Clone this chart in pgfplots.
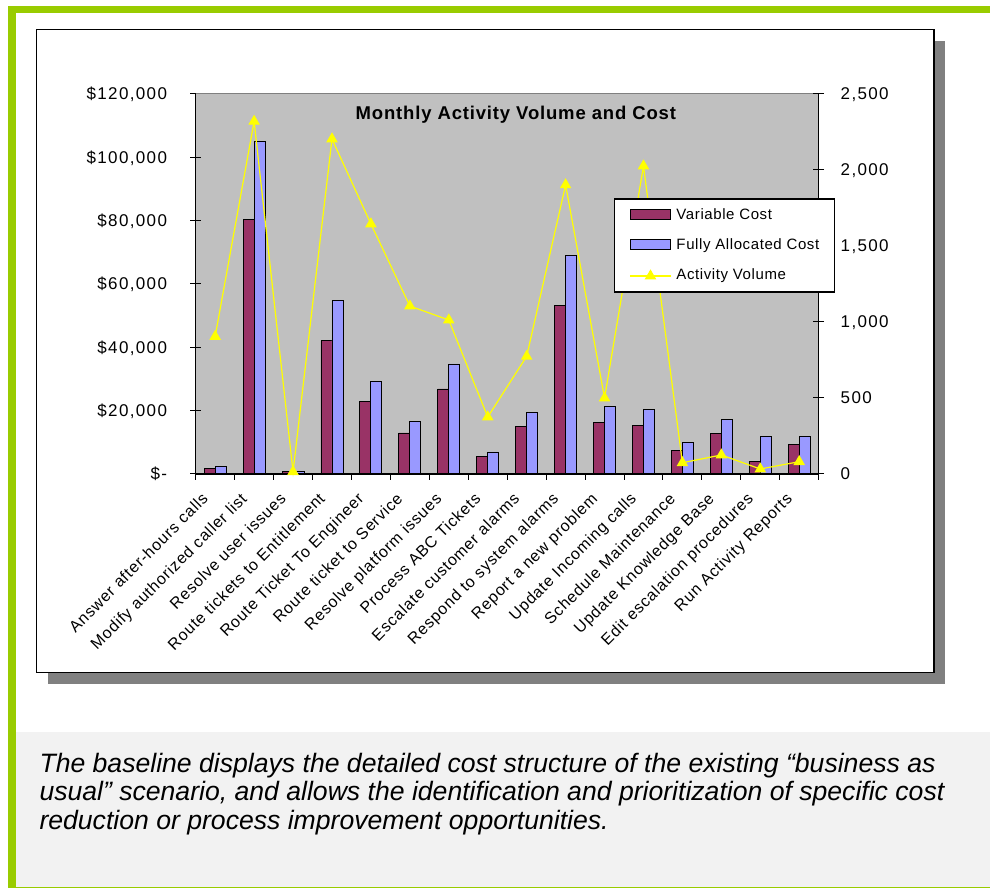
\documentclass[border=0pt]{standalone}
\usepackage{pgfplots}
\usepackage{pgfplotstable}
\pgfplotsset{compat=1.18}
\usepackage{fontspec}
\setmainfont{Liberation Sans}
\newfontfamily\tickfont[LetterSpace=8]{Liberation Sans}
\newfontfamily\xlabfont[LetterSpace=5]{Liberation Sans}
\newfontfamily\legfont[LetterSpace=4]{Liberation Sans}
\newfontfamily\titfont[LetterSpace=4.5]{Liberation Sans}
\definecolor{vc}{HTML}{993366}
\definecolor{fc}{HTML}{9999FF}
\definecolor{av}{HTML}{FFFF00}
\definecolor{plotbg}{HTML}{C0C0C0}
\definecolor{shadowc}{HTML}{808080}
\definecolor{framec}{HTML}{99CC00}
\definecolor{capbg}{HTML}{F2F2F2}

\pgfplotsset{
  vclegend/.style={legend image code/.code={\draw[fill=vc, draw=black, line width=0.9pt] (0pt,-0.5pt) rectangle (40.7pt,9.5pt);}},
  fclegend/.style={legend image code/.code={\draw[fill=fc, draw=black, line width=0.9pt] (0pt,-0.5pt) rectangle (40.7pt,9.5pt);}},
  linelegend/.style={legend image code/.code={\draw[##1, mark repeat=2, mark phase=2] plot coordinates {(0pt,3pt) (20.3pt,3pt) (40.7pt,3pt)};}},
}

\pgfplotstableread{
x var full vol
0 1800 2500 905
1 80250 104900 2320
2 900 950 15
3 42100 54750 2204
4 22850 29300 1645
5 12950 16500 1105
6 26850 34750 1013
7 5450 6950 375
8 14950 19450 774
9 53150 69050 1902
10 16400 21350 500
11 15350 20300 2026
12 7370 9900 74
13 12850 17280 125
14 3900 11800 33
15 9370 11800 81
}\datatable

\begin{document}
\begin{tikzpicture}[x=1pt,y=1pt]
\fill[white] (0,0) rectangle (990,888);
% frame
\fill[framec] (8.3,874.5) rectangle (990,882);
\fill[framec] (8.3,0) rectangle (15.7,882);
\fill[capbg] (15.7,1.3) rectangle (990,156.3);
\fill[framec] (8.3,0) rectangle (990,1.3);
% chart box + shadow
\fill[shadowc] (48.3,204) rectangle (945.3,847);
\filldraw[fill=white, draw=black, line width=1.2pt] (36.5,215.7) rectangle (934,858.5);

% axis 1: costs
\begin{axis}[
  at={(195.7pt,414pt)}, anchor=south west, scale only axis,
  width=623pt, height=380pt,
  xmin=-0.5, xmax=15.5, ymin=0, ymax=120000,
  scaled y ticks=false,
  axis background/.style={fill=plotbg},
  axis x line*=bottom, axis y line*=left,
  axis line style={black, line width=1.2pt, -},
  ybar=0pt, bar width=11pt,
  xtick={-0.5,0.5,...,15.5},
  x tick label as interval,
  x tick style={draw=none},
  xticklabels={Answer after-hours calls, Modify authorized caller list, Resolve user issues, Route tickets to Entitlement, Route Ticket To Engineer, Route ticket to Service, Resolve platform issues, Process ABC Tickets, Escalate customer alarms, Respond to system alarms, Report a new problem, Update Incoming calls, Schedule Maintenance, Update Knowledge Base, Edit escalation procedures, Run Activity Reports},
  xticklabel style={font=\xlabfont\fontsize{16}{18}\selectfont, inner sep=0pt, xshift=-14.5pt, yshift=-12pt, rotate=45, anchor=north east},
  ytick={0,20000,40000,60000,80000,100000,120000},
  yticklabels={{\$-},{\$20,000},{\$40,000},{\$60,000},{\$80,000},{\$100,000},{\$120,000}},
  yticklabel style={font=\tickfont\fontsize{17}{19}\selectfont, inner sep=0pt, anchor=base east, xshift=-23pt, yshift=-6pt},
  tick align=center, major tick length=11pt,
  y tick style={black, line width=1pt},
  clip=false,
]
\addplot[fill=vc, draw=black, line width=0.9pt] table[x=x,y=var]{\datatable};
\addplot[fill=fc, draw=black, line width=0.9pt] table[x=x,y=full]{\datatable};
\draw[shadowc, line width=1pt] (rel axis cs:0,1) -- (rel axis cs:1,1);
\end{axis}

% axis 3: x ticks at category boundaries
\begin{axis}[
  at={(195.7pt,414pt)}, anchor=south west, scale only axis,
  width=623pt, height=380pt,
  xmin=-0.5, xmax=15.5, ymin=0, ymax=1,
  axis x line*=bottom, axis y line=none,
  axis line style={black, line width=1.2pt, -},
  xtick={-0.5,0.5,...,15.5}, xticklabels={},
  tick align=outside, major tick length=6pt,
  x tick style={black, line width=1pt},
]
\end{axis}

% axis 2: activity volume
\begin{axis}[
  at={(195.7pt,414pt)}, anchor=south west, scale only axis,
  width=623pt, height=380pt,
  xmin=-0.5, xmax=15.5, ymin=0, ymax=2500,
  scaled y ticks=false,
  axis y line*=right, axis x line=none,
  axis line style={black, line width=1.2pt, -},
  ytick={0,500,1000,1500,2000,2500},
  yticklabels={0,500,{1,000},{1,500},{2,000},{2,500}},
  yticklabel style={font=\tickfont\fontsize{17}{19}\selectfont, inner sep=0pt, anchor=base west, xshift=16.3pt, yshift=-6pt},
  tick align=center, major tick length=11pt,
  y tick style={black, line width=1pt},
  clip=false,
  legend style={at={(0.6714,0.7255)}, anchor=north west, draw=black, line width=1.2pt, fill=white,
    inner xsep=15pt, inner ysep=9.5pt, row sep=15.3pt, column sep=5pt,
    nodes={inner sep=0pt, text height=11pt, text depth=3.5pt},
    cells={anchor=base west},
    font=\legfont\fontsize{15}{18}\selectfont},
]
\addlegendimage{vclegend}
\addlegendentry{Variable Cost}
\addlegendimage{fclegend}
\addlegendentry{Fully Allocated Cost}
\addplot[av, line width=1.2pt, mark=triangle*, mark size=5.5pt, mark options={fill=av, draw=av}, linelegend]
  table[x=x,y=vol]{\datatable};
\addlegendentry{Activity Volume}
\end{axis}

% title
\node[anchor=base, inner sep=0pt, font=\titfont\bfseries\fontsize{18.5}{20}\selectfont] at (515.8,768) {Monthly Activity Volume and Cost};

% caption
\begin{scope}[every node/.style={anchor=base west, inner sep=0pt, font=\fontsize{26.6}{28}\selectfont\itshape}]
\node at (39.3,115.5) {The baseline displays the detailed cost structure of the existing “business as};
\node at (39.3,87) {usual” scenario, and allows the identification and prioritization of specific cost};
\node at (39.3,58.5) {reduction or process improvement opportunities.};
\end{scope}

\pgfresetboundingbox
\useasboundingbox (0,0) rectangle (990,888);
\end{tikzpicture}
\end{document}
